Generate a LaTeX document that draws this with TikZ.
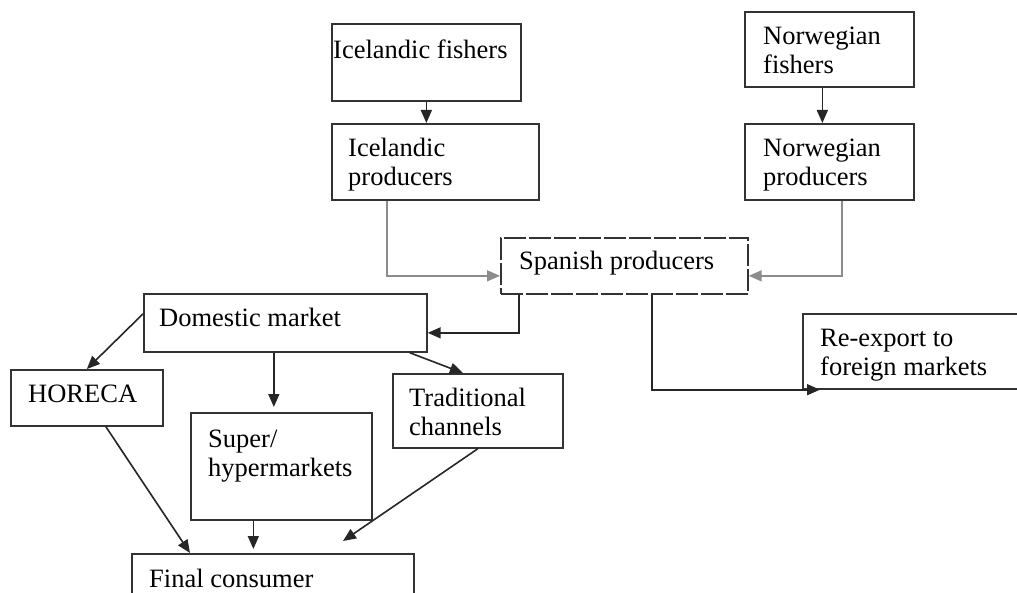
\documentclass[tikz,border=0pt]{standalone}
\usepackage{fontspec}
\setmainfont{Liberation Serif}
\usetikzlibrary{arrows.meta, positioning, calc}

\begin{document}
\begin{tikzpicture}[x=1pt, y=-1pt, >={Triangle[length=13pt, width=11pt]},
    box/.style={draw=black!80, line width=1.7pt, inner sep=0pt, anchor=north west},
    txt/.style={anchor=base west, inner sep=0pt, align=left, font=\fontsize{26.5}{29}\selectfont},
    link/.style={->, line width=1.6pt, draw=black!85},
    feed/.style={->, line width=1.6pt, draw=black!45}]
        \useasboundingbox (0,0) rectangle (1017,593);

        % Fishers and producers
        \node[box, minimum width=189, minimum height=77] (icef) at (331,23) {};
        \node[box, minimum width=207, minimum height=76] (icep) at (331,123) {};
        \node[box, minimum width=169, minimum height=75] (norf) at (744,11) {};
        \node[box, minimum width=169, minimum height=76] (norp) at (744,123) {};
        \node[box, minimum width=247, minimum height=56, dash pattern=on 22pt off 3pt] (span) at (500,237) {};

        % Markets
        \node[box, minimum width=283, minimum height=58] (dom) at (143,293) {};
        \node[box, minimum width=230, minimum height=75] (reexp) at (802,313) {};
        \node[box, minimum width=152, minimum height=56] (hor) at (10,369) {};
        \node[box, minimum width=181, minimum height=107] (sup) at (190,412) {};
        \node[box, minimum width=170, minimum height=74] (trad) at (392,373) {};
        \node[box, minimum width=282, minimum height=60] (final) at (131,553) {};

        % Labels (base = last line)
        \node[txt] (icef-t) at (333,59) {Icelandic fishers};
        \node[txt] (icep-t) at (348,186) {Icelandic\\producers};
        \node[txt] (norf-t) at (763,74) {Norwegian\\fishers};
        \node[txt] (norp-t) at (763,186) {Norwegian\\producers};
        \node[txt] (span-t) at (519,270) {Spanish producers};
        \node[txt] (dom-t) at (159,327) {Domestic market};
        \node[txt] (reexp-t) at (820,376) {Re-export to\\foreign markets};
        \node[txt] (hor-t) at (28,402) {HORECA};
        \node[txt] (sup-t) at (208,476) {Super/\\hypermarkets};
        \node[txt] (trad-t) at (409,435) {Traditional\\channels};
        \node[txt] (final-t) at (149,587) {Final consumer};

        % Flows
        \draw[link] (icef.south) -- (icef.south |- icep.north);
        \draw[link] ([xshift=-7pt]norf.south) -- ([xshift=-7pt]norf.south |- norp.north);
        \draw[feed] ([xshift=56pt]icep.south west) |- ([yshift=-10pt]span.west);
        \draw[feed] ([xshift=-73pt]norp.south east) |- ([yshift=-10pt]span.east);
        \draw[link] ([xshift=19pt]span.south west) |- ([yshift=-10pt]dom.east);
        \draw[link] ([xshift=152pt]span.south west) |- ([xshift=18pt]reexp.south west);
        \draw[link] ([yshift=9pt]dom.west) -- (hor.north);
        \draw[link] ([xshift=-11.5pt]dom.south) -- ([xshift=-11.5pt, yshift=5pt]dom.south |- sup.north);
        \draw[link] ([xshift=-18pt]dom.south east) -- ([xshift=-15pt]trad.north);
        \draw[link] ([xshift=19pt]hor.south) -- ([xshift=59pt]final.north west);
        \draw[link] ([xshift=-28pt]sup.south) -- ([xshift=-28pt, yshift=4pt]sup.south |- final.north);
        \draw[link] (trad.south) -- ([shift={(212pt,12pt)}]final.north west);
\end{tikzpicture}
\end{document}
